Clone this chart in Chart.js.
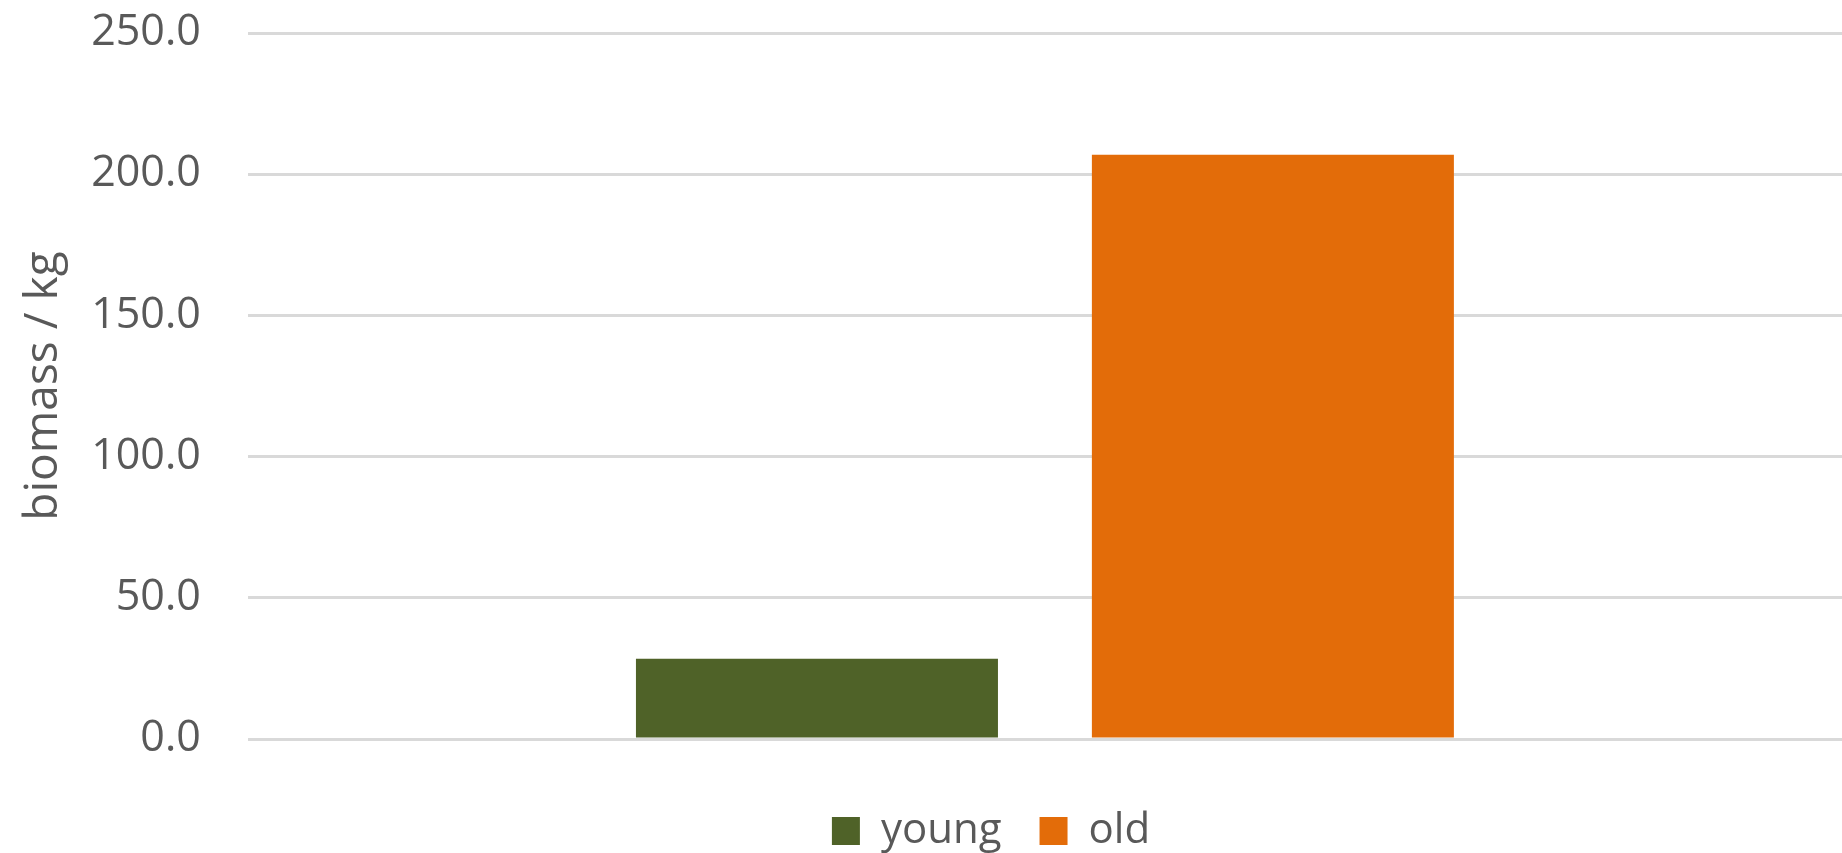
<!DOCTYPE html>
<html>
<head>
<meta charset="utf-8">
<script src="https://cdn.jsdelivr.net/npm/chart.js@4.4.0/dist/chart.umd.min.js"></script>
<style>
  html, body { margin: 0; padding: 0; background: #fff; }
  #wrap { width: 1842px; height: 853px; }
</style>
</head>
<body>
<div id="wrap"><canvas id="chart"></canvas></div>
<script>
const categories = [''];
const seriesNames = ['young', 'old'];
const youngValues = [28.4];
const oldValues = [206.9];
const yTicks = [0, 50, 100, 150, 200, 250];

const colors = ['#4f6228', '#e36c09'];
const textColor = '#595959';
const gridColor = '#d9d9d9';
const fontFamily = '"Open Sans", "DejaVu Sans", sans-serif';

// nudge the legend, chart.js has no offset option for it
const legendShift = {
  id: 'legendShift',
  afterLayout(chart) {
    const dx = 62, dy = 9;
    chart.legend.left += dx;
    chart.legend.right += dx;
    chart.legend.top += dy;
    chart.legend.bottom += dy;
  }
};

const ctx = document.getElementById('chart').getContext('2d');
new Chart(ctx, {
  type: 'bar',
  data: {
    labels: categories,
    datasets: [
      { label: seriesNames[0], data: youngValues, backgroundColor: colors[0] },
      { label: seriesNames[1], data: oldValues, backgroundColor: colors[1] }
    ]
  },
  options: {
    responsive: true,
    maintainAspectRatio: false,
    animation: false,
    categoryPercentage: 0.572,
    barPercentage: 0.794,
    layout: { padding: { top: 33, right: 0, left: 16, bottom: 0 } },
    plugins: {
      legend: {
        display: true,
        position: 'bottom',
        labels: {
          boxWidth: 28,
          boxHeight: 28,
          color: textColor,
          font: { size: 42, family: fontFamily },
          padding: 38
        }
      },
      tooltip: { enabled: false }
    },
    scales: {
      x: {
        grid: { display: false },
        border: { display: false },
        ticks: { display: false },
        afterFit: (axis) => { axis.height += 16; }
      },
      y: {
        min: 0,
        max: 250,
        afterBuildTicks: (axis) => { axis.ticks = yTicks.map(v => ({ value: v })); },
        grid: { color: gridColor, lineWidth: 3, drawTicks: true, tickLength: 45, tickColor: 'rgba(0,0,0,0)' },
        border: { display: false },
        ticks: {
          color: textColor,
          padding: 2,
          font: { size: 43, family: fontFamily },
          callback: (v) => Number(v).toFixed(1)
        },
        title: {
          display: true,
          text: 'biomass / kg',
          color: textColor,
          font: { size: 46, family: fontFamily },
          padding: { top: 0, bottom: 18 }
        }
      }
    }
  },
  plugins: [legendShift]
});
</script>
</body>
</html>
